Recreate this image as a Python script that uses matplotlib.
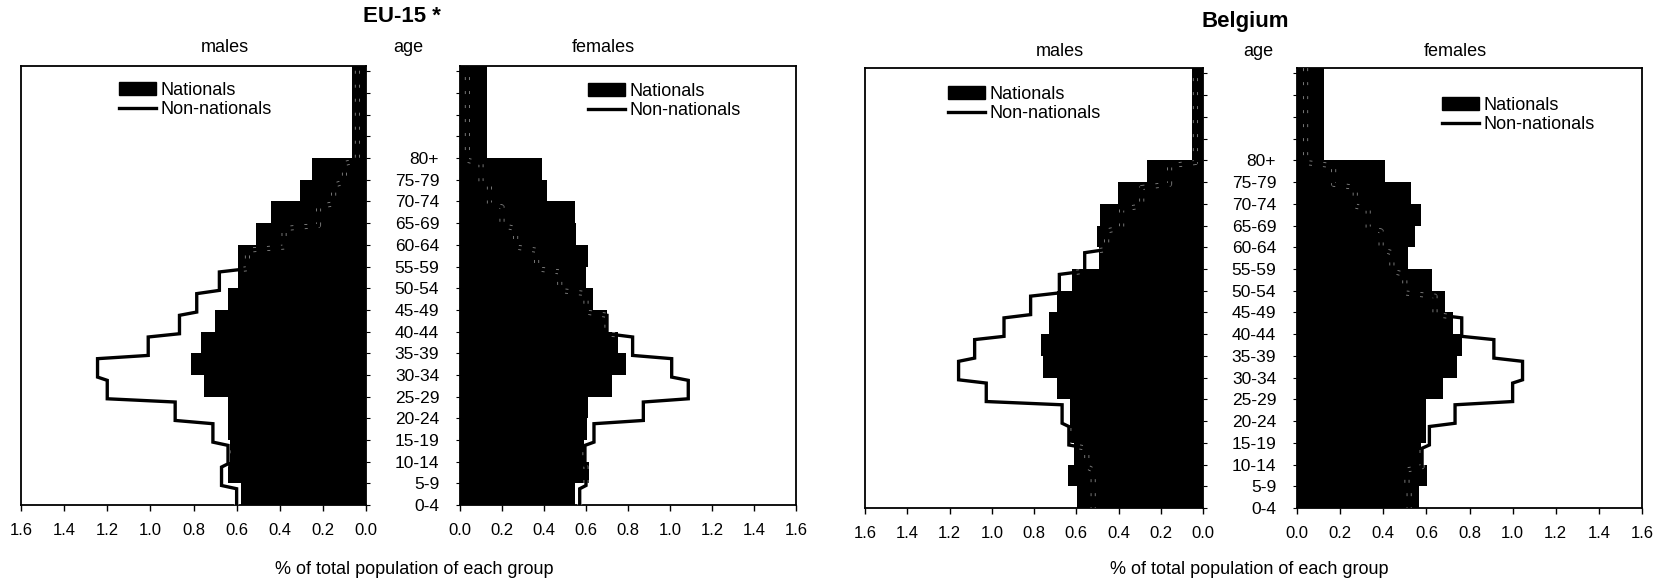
import numpy as np
import matplotlib
matplotlib.use("Agg")
import matplotlib.pyplot as plt
from matplotlib.patches import Patch
from matplotlib.lines import Line2D

plt.rcParams["font.family"] = ["Liberation Sans", "DejaVu Sans"]

W, H = 1659, 580

# age groups, bottom to top
age_labels = ["0-4", "5-9", "10-14", "15-19", "20-24", "25-29", "30-34", "35-39",
              "40-44", "45-49", "50-54", "55-59", "60-64", "65-69", "70-74", "75-79", "80+"]

# % of total population of each group
eu_male_nat = [0.58, 0.64, 0.63, 0.64, 0.64, 0.75, 0.81, 0.766, 0.70, 0.638,
               0.595, 0.595, 0.51, 0.44, 0.306, 0.25, 0.066]
eu_male_non = [0.60, 0.67, 0.64, 0.71, 0.885, 1.20, 1.245, 1.01, 0.865, 0.785,
               0.68, 0.55, 0.38, 0.22, 0.15, 0.10, 0.04]
eu_female_nat = [0.548, 0.616, 0.592, 0.606, 0.611, 0.725, 0.79, 0.754, 0.70, 0.632,
                 0.60, 0.611, 0.552, 0.548, 0.413, 0.392, 0.13]
eu_female_non = [0.57, 0.60, 0.595, 0.638, 0.873, 1.087, 1.008, 0.822, 0.70, 0.60,
                 0.475, 0.365, 0.265, 0.20, 0.14, 0.10, 0.035]
be_male_nat = [0.595, 0.638, 0.61, 0.63, 0.63, 0.693, 0.759, 0.768, 0.728, 0.69,
               0.62, 0.49, 0.503, 0.488, 0.404, 0.264, 0.05]
be_male_non = [0.52, 0.52, 0.55, 0.635, 0.667, 1.026, 1.157, 1.081, 0.942, 0.816,
               0.68, 0.56, 0.456, 0.385, 0.29, 0.158, 0.036]
be_female_nat = [0.566, 0.605, 0.574, 0.597, 0.60, 0.676, 0.74, 0.764, 0.725, 0.687,
                 0.625, 0.517, 0.548, 0.575, 0.529, 0.409, 0.126]
be_female_non = [0.52, 0.51, 0.58, 0.614, 0.733, 1.0, 1.046, 0.913, 0.764, 0.64,
                 0.50, 0.44, 0.39, 0.33, 0.27, 0.17, 0.04]

x_ticks = [0.0, 0.2, 0.4, 0.6, 0.8, 1.0, 1.2, 1.4, 1.6]
series_labels = ["Nationals", "Non-nationals"]

YTOP = 20.25
N_TICKS = 21


def rect(l, t, r, b):
    return [l / W, 1 - b / H, (r - l) / W, (b - t) / H]


def fx(x):
    return x / W


def fy(y):
    return 1 - y / H


def step_line(values):
    xs, ys = [], []
    last = len(values) - 1
    for k, v in enumerate(values):
        xs += [v, v]
        ys += [k - 0.1, YTOP + 1 if k == last else k + 0.75]
    return xs, ys


def draw_half(fig, box, nat, non, male, leg_xy):
    ax = fig.add_axes(rect(*box))
    pos = np.arange(len(nat))
    heights = [1] * (len(nat) - 1) + [YTOP + 1 - (len(nat) - 1)]
    ax.barh(pos, nat, height=heights, align="edge", color="black", linewidth=0, zorder=2)
    xs, ys = step_line(non)
    # scan-like specks where the line runs inside the black bars
    ax.plot(xs, ys, color="white", lw=3.6, ls=(0, (0.6, 2.2)), alpha=0.55, zorder=3)
    ax.plot(xs, ys, color="black", lw=2.4, zorder=4, solid_joinstyle="miter")

    ax.set_ylim(0, YTOP)
    ax.set_yticks(range(N_TICKS))
    ax.set_xticks(x_ticks)
    ax.set_xticklabels([f"{t:.1f}" for t in x_ticks])
    ax.tick_params(axis="x", direction="out", length=4, width=1, labelsize=12, pad=9)
    if male:
        ax.set_xlim(1.6, 0)
        ax.yaxis.tick_right()
        ax.tick_params(axis="y", direction="out", length=3, width=0.8, labelright=False)
    else:
        ax.set_xlim(0, 1.6)
        ax.set_yticklabels(age_labels + [""] * (N_TICKS - len(age_labels)))
        ax.tick_params(axis="y", direction="out", length=3, width=0.8, labelsize=12.5, pad=12)
    for s in ax.spines.values():
        s.set_linewidth(1.3)

    handles = [Patch(facecolor="black", edgecolor="black"),
               Line2D([], [], color="black", lw=2.4)]
    ax.legend(handles, series_labels, loc="center left",
              bbox_to_anchor=(fx(leg_xy[0]), fy(leg_xy[1])), bbox_transform=fig.transFigure,
              frameon=False, fontsize=13, handlelength=2.05, handletextpad=0.25,
              labelspacing=0.15, borderpad=0, borderaxespad=0)
    return ax


fig = plt.figure(figsize=(W / 100, H / 100), dpi=100)

draw_half(fig, (21, 66, 366, 505), eu_male_nat, eu_male_non, True, (119, 100))
draw_half(fig, (460, 66, 796, 505), eu_female_nat, eu_female_non, False, (588, 101))
draw_half(fig, (865, 68, 1203, 508), be_male_nat, be_male_non, True, (948, 104))
draw_half(fig, (1297, 68, 1642, 508), be_female_nat, be_female_non, False, (1442, 115))

fig.text(fx(402), fy(17), "EU-15 *", ha="center", va="center", fontsize=16, fontweight="bold")
fig.text(fx(1245), fy(21), "Belgium", ha="center", va="center", fontsize=16, fontweight="bold")

for x, y, s in [(225, 48, "males"), (408, 48, "age"), (603, 48, "females"),
                (1060, 51, "males"), (1258, 51, "age"), (1455, 51, "females")]:
    fig.text(fx(x), fy(y), s, ha="center", va="center", fontsize=13)

for x in (414, 1249):
    fig.text(fx(x), fy(569), "% of total population of each group", ha="center", va="center", fontsize=13)

fig.savefig("out.png", dpi=100)
